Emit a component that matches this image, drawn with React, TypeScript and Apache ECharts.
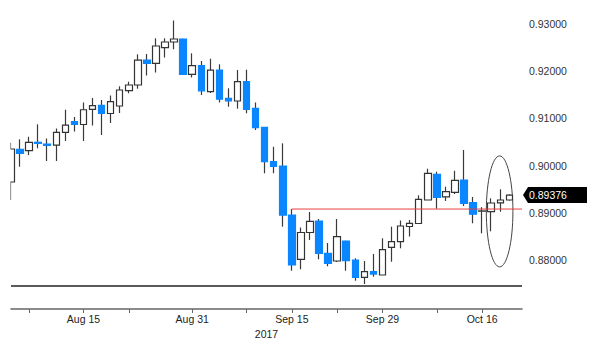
import React, { useEffect, useRef } from "react";
import * as echarts from "echarts";

const DATES = [
  "Aug 3", "Aug 4", "Aug 7", "Aug 8", "Aug 9", "Aug 10", "Aug 11", "Aug 14", "Aug 15", "Aug 16",
  "Aug 17", "Aug 18", "Aug 21", "Aug 22", "Aug 23", "Aug 24", "Aug 25", "Aug 28", "Aug 29", "Aug 30",
  "Aug 31", "Sep 1", "Sep 4", "Sep 5", "Sep 6", "Sep 7", "Sep 8", "Sep 11", "Sep 12", "Sep 13",
  "Sep 14", "Sep 15", "Sep 18", "Sep 19", "Sep 20", "Sep 21", "Sep 22", "Sep 25", "Sep 26", "Sep 27",
  "Sep 28", "Sep 29", "Oct 2", "Oct 3", "Oct 4", "Oct 5", "Oct 6", "Oct 9", "Oct 10", "Oct 11",
  "Oct 12", "Oct 13", "Oct 16", "Oct 17", "Oct 18", "Oct 19",
];

const OPEN = [
  0.89653, 0.90345, 0.90316, 0.90494, 0.90458, 0.90436, 0.90705, 0.9093, 0.90871, 0.91193,
  0.91278, 0.91104, 0.91263, 0.91587, 0.91708, 0.92237, 0.92167, 0.92498, 0.92619, 0.92682,
  0.91934, 0.92117, 0.91566, 0.92025, 0.91426, 0.91369, 0.91778, 0.91214, 0.90811, 0.90087,
  0.89992, 0.88953, 0.88015, 0.88583, 0.88826, 0.88142, 0.87979, 0.88403, 0.88, 0.87634,
  0.87752, 0.87682, 0.88269, 0.88388, 0.8871, 0.88773, 0.89271, 0.89816, 0.89339, 0.89434,
  0.89695, 0.89214, 0.89035, 0.89023, 0.89212, 0.89271,
];
const CLOSE = [
  0.90352, 0.90261, 0.90494, 0.90472, 0.90426, 0.90705, 0.90856, 0.90871, 0.91184, 0.91273,
  0.91104, 0.91354, 0.91602, 0.91708, 0.92237, 0.92167, 0.92534, 0.92619, 0.92682, 0.91934,
  0.92117, 0.91585, 0.92025, 0.91407, 0.91369, 0.91778, 0.91193, 0.90803, 0.90083, 0.89985,
  0.88953, 0.87894, 0.88583, 0.8882, 0.88138, 0.8793, 0.88494, 0.87989, 0.87634, 0.87752,
  0.87703, 0.88222, 0.88388, 0.8872, 0.88778, 0.89286, 0.89837, 0.89324, 0.89447, 0.89689,
  0.89201, 0.8897, 0.8904, 0.89208, 0.89271, 0.89376,
];
const LOW = [
  0.89271, 0.89977, 0.90225, 0.90367, 0.90097, 0.90097, 0.90521, 0.90722, 0.90521, 0.9085,
  0.90648, 0.90903, 0.91114, 0.91532, 0.91629, 0.91909, 0.91972, 0.9229, 0.92464, 0.91925,
  0.91867, 0.91496, 0.91538, 0.91337, 0.91248, 0.91206, 0.91108, 0.90754, 0.89837, 0.89837,
  0.88706, 0.87773, 0.87803, 0.88424, 0.88015, 0.87867, 0.87958, 0.87773, 0.87561, 0.87492,
  0.87646, 0.87682, 0.87964, 0.88248, 0.88498, 0.88773, 0.89271, 0.89087, 0.8925, 0.89398,
  0.89144, 0.88778, 0.88566, 0.88608, 0.89023, 0.8926,
];
const HIGH = [
  0.90485, 0.90557, 0.90612, 0.90875, 0.90574, 0.90786, 0.91184, 0.9103, 0.91337, 0.91432,
  0.9139, 0.91485, 0.9168, 0.91778, 0.92358, 0.92364, 0.92697, 0.92697, 0.93074, 0.9269,
  0.92379, 0.92216, 0.92265, 0.92146, 0.91638, 0.92025, 0.92032, 0.91337, 0.90818, 0.904,
  0.90472, 0.89081, 0.88689, 0.89017, 0.88869, 0.8836, 0.88869, 0.8841, 0.88036, 0.87979,
  0.88127, 0.8846, 0.88706, 0.88837, 0.88847, 0.89371, 0.89934, 0.89871, 0.89553, 0.89892,
  0.90331, 0.89335, 0.8912, 0.89307, 0.89498, 0.8939,
];

const X_TICK_IDX = [2, 8, 13, 20, 26, 31, 36, 41, 47, 52];
const X_LABEL_IDX = [8, 20, 31, 41, 52];
const Y_LABELS = [0.88, 0.89, 0.9, 0.91, 0.92, 0.93];
const YEAR = "2017";

const X_MIN = 0;
const X_MAX = 56.4;
const Y_MIN = 0.86962;
const Y_MAX = 0.93424;

const SUPPORT = 0.8745;
const RESIST = 0.8908;
const RESIST_START = 31;
const LAST_PRICE = 0.89376;
const ELLIPSE_CENTER = [53.93, 0.8903];

const BLUE = "#0a86ff";
const DARK = "#333333";
const FONT = "Liberation Sans, Arial, sans-serif";

export default function App() {
  const ref = useRef<HTMLDivElement>(null);

  useEffect(() => {
    if (!ref.current) return;
    const chart = echarts.init(ref.current, null, { renderer: "svg" });

    const wickData = DATES.map((_, i) => [i, LOW[i], HIGH[i], LOW[i], HIGH[i]]);
    const bodyData = DATES.map((_, i) => [
      i,
      OPEN[i],
      CLOSE[i],
      Math.min(OPEN[i], CLOSE[i]),
      Math.max(OPEN[i], CLOSE[i]),
    ]);

    chart.setOption({
      animation: false,
      backgroundColor: "#ffffff",
      grid: { left: 11, right: 78, top: 4, bottom: 42 },
      xAxis: {
        type: "value",
        min: X_MIN,
        max: X_MAX,
        name: YEAR,
        nameLocation: "middle",
        nameGap: 18,
        nameTextStyle: { fontFamily: FONT, fontSize: 10.5, color: "#222" },
        axisLine: { show: true, lineStyle: { color: "#666", width: 1.5 } },
        axisTick: {
          show: true,
          customValues: X_TICK_IDX,
          length: 4,
          lineStyle: { color: "#666", width: 1 },
        },
        axisLabel: {
          customValues: X_LABEL_IDX,
          formatter: (v: number) => DATES[Math.round(v)] ?? "",
          fontFamily: FONT,
          fontSize: 10.5,
          color: "#222",
          margin: 4,
        },
        splitLine: { show: false },
      },
      yAxis: {
        type: "value",
        position: "right",
        min: Y_MIN,
        max: Y_MAX,
        axisLine: { show: false },
        axisTick: { show: false },
        splitLine: { show: false },
        axisLabel: {
          customValues: Y_LABELS,
          formatter: (v: number) => v.toFixed(5),
          fontFamily: FONT,
          fontSize: 10.5,
          color: "#333",
          margin: 7,
        },
      },
      series: [
        {
          type: "line",
          name: "support",
          data: [
            [X_MIN, SUPPORT],
            [X_MAX, SUPPORT],
          ],
          symbol: "none",
          silent: true,
          lineStyle: { color: "#5a5a5a", width: 2 },
          z: 1,
        },
        {
          type: "candlestick",
          name: "wick",
          clip: true,
          barWidth: 1,
          encode: { x: 0, y: [1, 2, 3, 4] },
          data: wickData,
          itemStyle: {
            color: "#3a3a3a",
            color0: "#3a3a3a",
            borderColor: "#3a3a3a",
            borderColor0: "#3a3a3a",
            borderWidth: 1.2,
          },
          silent: true,
          z: 2,
        },
        {
          type: "candlestick",
          name: "body",
          clip: true,
          barWidth: 7,
          encode: { x: 0, y: [1, 2, 3, 4] },
          data: bodyData,
          itemStyle: {
            color: "#ffffff",
            color0: BLUE,
            borderColor: DARK,
            borderColor0: BLUE,
            borderWidth: 1.2,
          },
          silent: true,
          z: 3,
        },
        {
          type: "line",
          name: "resistance",
          data: [
            [RESIST_START, RESIST],
            [X_MAX, RESIST],
          ],
          symbol: "none",
          silent: true,
          lineStyle: { color: "#e8413f", width: 1 },
          z: 4,
        },
      ],
    });

    const tagY = chart.convertToPixel({ yAxisIndex: 0 }, LAST_PRICE) as number;
    const xl = chart.convertToPixel({ xAxisIndex: 0 }, X_MIN) as number;
    const xr = chart.convertToPixel({ xAxisIndex: 0 }, X_MAX) as number;
    const yTop = chart.convertToPixel({ yAxisIndex: 0 }, Y_MAX) as number;
    const yBot = chart.convertToPixel({ yAxisIndex: 0 }, Y_MIN) as number;
    const ec = chart.convertToPixel({ gridIndex: 0 }, ELLIPSE_CENTER) as number[];

    chart.setOption({
      graphic: [
        {
          type: "rect",
          shape: { x: 0, y: yTop, width: xl - 0.5, height: yBot - yTop - 2 },
          style: { fill: "#fff" },
          silent: true,
          z: 100,
        },
        {
          type: "ellipse",
          shape: { cx: ec[0], cy: ec[1], rx: 13.3, ry: 55.5 },
          style: { fill: "none", stroke: "#444", lineWidth: 1 },
          silent: true,
        },
        {
          type: "polygon",
          shape: {
            points: [
              [xr + 1, tagY],
              [xr + 6, tagY - 8],
              [xr + 65, tagY - 8],
              [xr + 65, tagY + 8],
              [xr + 6, tagY + 8],
            ],
          },
          style: { fill: "#000" },
          silent: true,
        },
        {
          type: "text",
          x: xr + 7,
          y: tagY,
          style: {
            text: LAST_PRICE.toFixed(5),
            fill: "#fff",
            font: `10.5px ${FONT}`,
            verticalAlign: "middle",
            align: "left",
          },
          silent: true,
        },
      ],
    });

    return () => chart.dispose();
  }, []);

  return (
    <div
      ref={ref}
      style={{ position: "fixed", left: 0, top: 0, width: 600, height: 351, background: "#fff" }}
    />
  );
}
